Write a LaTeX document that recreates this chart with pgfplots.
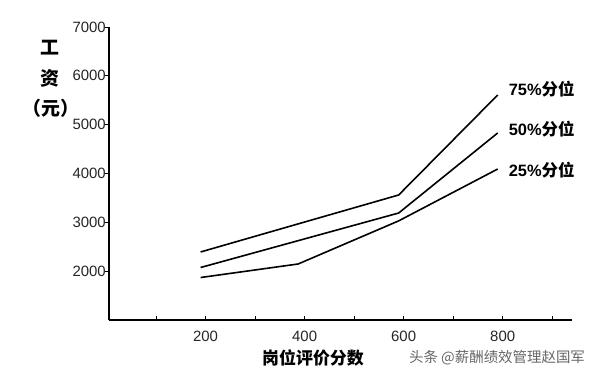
\documentclass[border=0pt]{standalone}
\usepackage{pgfplots}
\pgfplotsset{compat=1.18}
\usepackage{fontspec}
\setmainfont{Liberation Sans}
\newfontfamily\cjk{Noto Sans CJK SC}
\begin{document}
\begin{tikzpicture}
\useasboundingbox (-109bp,-59bp) rectangle (491bp,320bp);
\begin{axis}[
  scale only axis,
  width=463bp, height=293bp,
  xmin=5, xmax=940, ymin=1000, ymax=7000,
  axis x line*=bottom, axis y line*=left,
  axis line style={line width=1.6bp, -},
  xtick={200,400,600,800},
  minor xtick={100,300,500,700,900},
  ytick={2000,3000,4000,5000,6000,7000},
  tick align=inside,
  major tick length=4bp, minor tick length=4bp,
  tick style={line width=1bp, black},
  y tick style={xshift=-4bp},
  /pgf/number format/assume math mode=true,
  /pgf/number format/1000 sep={},
  tick label style={font=\fontsize{15}{16}\selectfont, text=black!85},
  yticklabel style={xshift=-3bp, inner sep=0pt},
  xticklabel style={yshift=-8bp},
  clip=false,
]
\addplot[black, line width=1.6bp] coordinates {(190,2393) (390,2977) (590,3560) (790,5608)};
\addplot[black, line width=1.6bp] coordinates {(190,2075) (390,2633) (590,3191) (790,4830)};
\addplot[black, line width=1.6bp] coordinates {(190,1870) (387,2147) (590,3030) (790,4092)};
\node[anchor=west, font=\fontsize{16.5}{17}\selectfont\bfseries, inner sep=0pt] at (axis cs:812,5730) {75\%{\cjk 分位}};
\node[anchor=west, font=\fontsize{16.5}{17}\selectfont\bfseries, inner sep=0pt] at (axis cs:812,4910) {50\%{\cjk 分位}};
\node[anchor=west, font=\fontsize{16.5}{17}\selectfont\bfseries, inner sep=0pt] at (axis cs:812,4070) {25\%{\cjk 分位}};
\end{axis}
\node[font=\fontsize{19}{20}\selectfont\cjk\bfseries] at (-59bp,272bp) {工};
\node[font=\fontsize{19}{20}\selectfont\cjk\bfseries] at (-59bp,242bp) {资};
\node[font=\fontsize{19}{20}\selectfont\cjk\bfseries] at (-58bp,212bp) {（元）};
\node[font=\fontsize{17}{18}\selectfont\cjk\bfseries] at (204bp,-38bp) {岗位评价分数};
\node[font=\fontsize{14.5}{15}\selectfont\cjk, text=black!60] at (388bp,-38bp) {头条 @薪酬绩效管理赵国军};
\end{tikzpicture}
\end{document}
